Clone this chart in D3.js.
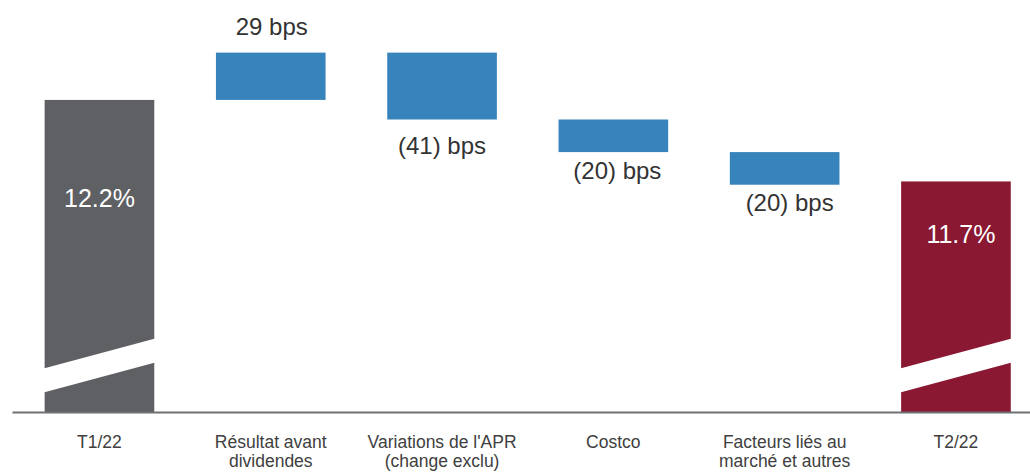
<!DOCTYPE html>
<html>
<head>
<meta charset="utf-8">
<script src="https://cdn.jsdelivr.net/npm/d3@7"></script>
<style>
  html, body { margin: 0; padding: 0; background: #ffffff; }
  svg { display: block; font-family: "Liberation Sans", Arial, sans-serif; }
</style>
</head>
<body>
<svg id="chart" width="1030" height="472"></svg>
<script>
// CET1 ratio walk, T1/22 to T2/22
const categories = ["T1/22", "Résultat avant dividendes", "Variations de l'APR (change exclu)", "Costco", "Facteurs liés au marché et autres", "T2/22"];
const categoryLines = [
  ["T1/22"],
  ["Résultat avant", "dividendes"],
  ["Variations de l'APR", "(change exclu)"],
  ["Costco"],
  ["Facteurs liés au", "marché et autres"],
  ["T2/22"]
];
const openingRatio = 12.2;   // %
const closingRatio = 11.7;   // %
const changesBps = [29, -41, -20, -20];

const width = 1030, height = 472;
const axisY = 412.5;
const colors = { start: "#5e6063", change: "#3783bb", end: "#8a1832" };

const svg = d3.select("#chart");

const x = d3.scaleBand()
  .domain(categories)
  .range([13.8, 1041.6])
  .paddingInner(0.36)
  .paddingOuter(0.18);

// broken axis: the visible part starts just above 10.3%
const y = d3.scaleLinear().domain([10.28, 12.5]).range([413, 51]);

// build the waterfall steps
const steps = [];
steps.push({ cat: categories[0], y0: y.domain()[0], y1: openingRatio, kind: "start", label: d3.format(".1f")(openingRatio) + "%" });
let running = openingRatio;
changesBps.forEach((d, i) => {
  const next = running + d / 100;
  steps.push({
    cat: categories[i + 1],
    y0: Math.min(running, next),
    y1: Math.max(running, next),
    kind: "change",
    bps: d,
    label: d < 0 ? "(" + Math.abs(d) + ") bps" : d + " bps"
  });
  running = next;
});
steps.push({ cat: categories[5], y0: y.domain()[0], y1: closingRatio, kind: "end", label: d3.format(".1f")(closingRatio) + "%" });

// bars
svg.append("g").selectAll("rect")
  .data(steps)
  .join("rect")
  .attr("x", d => x(d.cat))
  .attr("width", x.bandwidth())
  .attr("y", d => y(d.y1))
  .attr("height", d => y(d.y0) - y(d.y1))
  .attr("fill", d => colors[d.kind]);

// axis-break cut through the two total bars
const breaks = steps.filter(d => d.kind !== "change");
svg.append("g").selectAll("polygon")
  .data(breaks)
  .join("polygon")
  .attr("fill", "#ffffff")
  .attr("points", d => {
    const x0 = x(d.cat) - 1, x1 = x(d.cat) + x.bandwidth() + 1;
    return [
      [x0, axisY - 44], [x1, axisY - 74],
      [x1, axisY - 50], [x0, axisY - 20]
    ].map(p => p.join(",")).join(" ");
  });

// x axis
const axis = svg.append("g")
  .attr("transform", `translate(0,${axisY})`)
  .call(d3.axisBottom(x).tickSize(0).tickSizeOuter(0).tickFormat(""));
axis.select(".domain")
  .attr("d", `M12.5,0H${width}`)
  .attr("stroke", "#6f7072")
  .attr("stroke-width", 2.2);

axis.selectAll(".tick text").remove();
axis.selectAll(".tick").each(function(cat, i) {
  const g = d3.select(this);
  categoryLines[i].forEach((line, j) => {
    g.append("text")
      .attr("fill", "#404040")
      .attr("font-size", 17.5)
      .attr("text-anchor", "middle")
      .attr("x", 0)
      .attr("y", 35 + j * 19.5)
      .text(line);
  });
});

// value labels
const labelNudge = {
  "T1/22": { dx: 0, dy: 107 },
  "T2/22": { dx: 5, dy: 62 }
};
const changeNudge = [ { dx: 1, dy: -18 }, { dx: 0, dy: 35 }, { dx: 4, dy: 27 }, { dx: 5, dy: 26 } ];

svg.append("g").selectAll("text")
  .data(steps)
  .join("text")
  .attr("text-anchor", "middle")
  .attr("font-size", d => d.kind === "change" ? 24 : 25)
  .attr("fill", d => d.kind === "change" ? "#333333" : "#ffffff")
  .attr("x", (d, i) => {
    const c = x(d.cat) + x.bandwidth() / 2;
    return d.kind === "change" ? c + changeNudge[i - 1].dx : c + labelNudge[d.cat].dx;
  })
  .attr("y", (d, i) => {
    if (d.kind !== "change") return y(d.y1) + labelNudge[d.cat].dy;
    const n = changeNudge[i - 1];
    return d.bps >= 0 ? y(d.y1) + n.dy : y(d.y0) + n.dy;
  })
  .text(d => d.label);
</script>
</body>
</html>
